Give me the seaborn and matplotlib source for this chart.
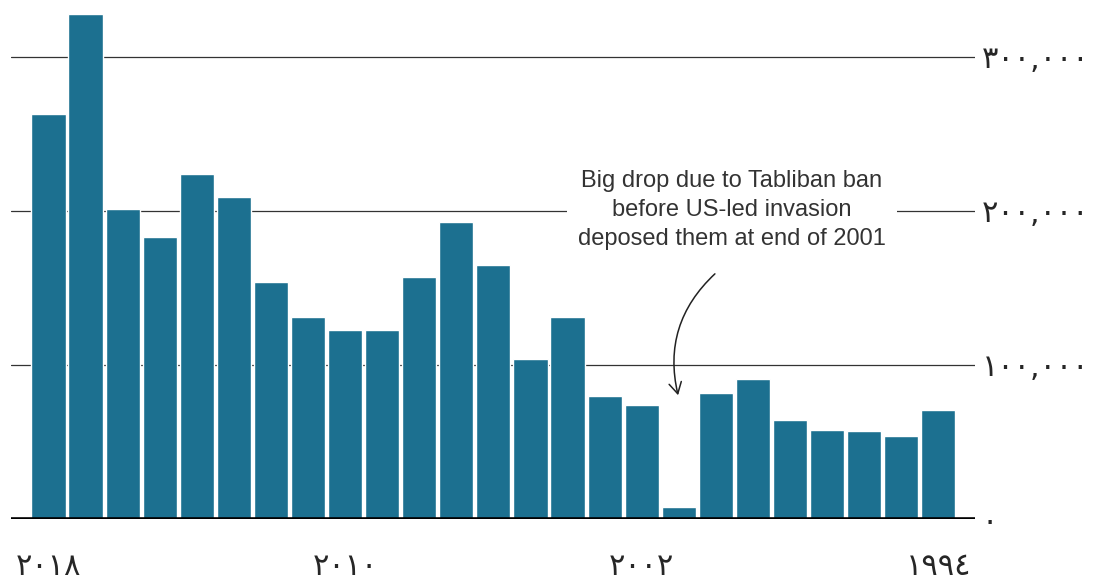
import numpy as np
import pandas as pd
import matplotlib
matplotlib.use("Agg")
import matplotlib.pyplot as plt
import seaborn as sns

# Datos (años de 2018 a 1994, eje invertido)
years = [2018, 2017, 2016, 2015, 2014, 2013, 2012, 2011, 2010, 2009, 2008, 2007, 2006,
         2005, 2004, 2003, 2002, 2001, 2000, 1999, 1998, 1997, 1996, 1995, 1994]
values = [263000, 328000, 201000, 183000, 224000, 209000, 154000, 131000, 123000, 123000,
          157000, 193000, 165000, 104000, 131000, 80000, 74000, 8000, 82000, 91000,
          64000, 58000, 57000, 54000, 71000]
xtick_years = [2018, 2010, 2002, 1994]
ytick_values = [0, 100000, 200000, 300000]
note = "Big drop due to Tabliban ban\nbefore US-led invasion\ndeposed them at end of 2001"

AR_DIGITS = str.maketrans("0123456789", "٠١٢٣٤٥٦٧٨٩")

def to_arabic(n, sep=True):
    s = f"{n:,}" if sep else str(n)
    return s.translate(AR_DIGITS)

df = pd.DataFrame({"year": [str(y) for y in years], "value": values})

sns.set_style("white")
plt.rcParams["font.family"] = ["DejaVu Sans"]

fig = plt.figure(figsize=(10.96, 5.83), dpi=100)
ax = fig.add_axes([11 / 1096, 64 / 583, 964 / 1096, 509 / 583])

sns.barplot(data=df, x="year", y="value", order=df["year"], color="#1c7090",
            saturation=1, width=0.92, ax=ax, zorder=2)

ax.set_xlim(-1.01, 24.99)
ax.set_ylim(0, 330500)

# rejilla horizontal detrás de las barras
for v in ytick_values[1:]:
    ax.axhline(v, color="#333333", lw=0.9, zorder=1)
ax.axhline(0, color="black", lw=2.6, zorder=3)

ax.yaxis.tick_right()
ax.set_yticks(ytick_values)
ax.set_yticklabels([to_arabic(v) for v in ytick_values])
pos = [years.index(y) for y in xtick_years]
ax.set_xticks(pos)
ax.set_xticklabels([to_arabic(y, sep=False) for y in xtick_years])
ax.tick_params(axis="y", length=0, pad=5, labelsize=22)
ax.tick_params(axis="x", length=0, pad=24, labelsize=22)
ax.set_xlabel("")
ax.set_ylabel("")
for s in ax.spines.values():
    s.set_visible(False)

# anotación
ax.text(18.43, 200650, note, ha="center", va="center", fontsize=17,
        family="Liberation Sans", color="#333333", linespacing=1.42, zorder=4,
        bbox=dict(facecolor="white", edgecolor="none", pad=8))
ax.annotate("", xy=(17.0, 78600), xytext=(18.03, 160400),
            arrowprops=dict(arrowstyle="->,head_length=0.8,head_width=0.45",
                            color="#222222", lw=1.1,
                            connectionstyle="arc3,rad=0.3"), zorder=4)

fig.savefig("out.png", dpi=100)
